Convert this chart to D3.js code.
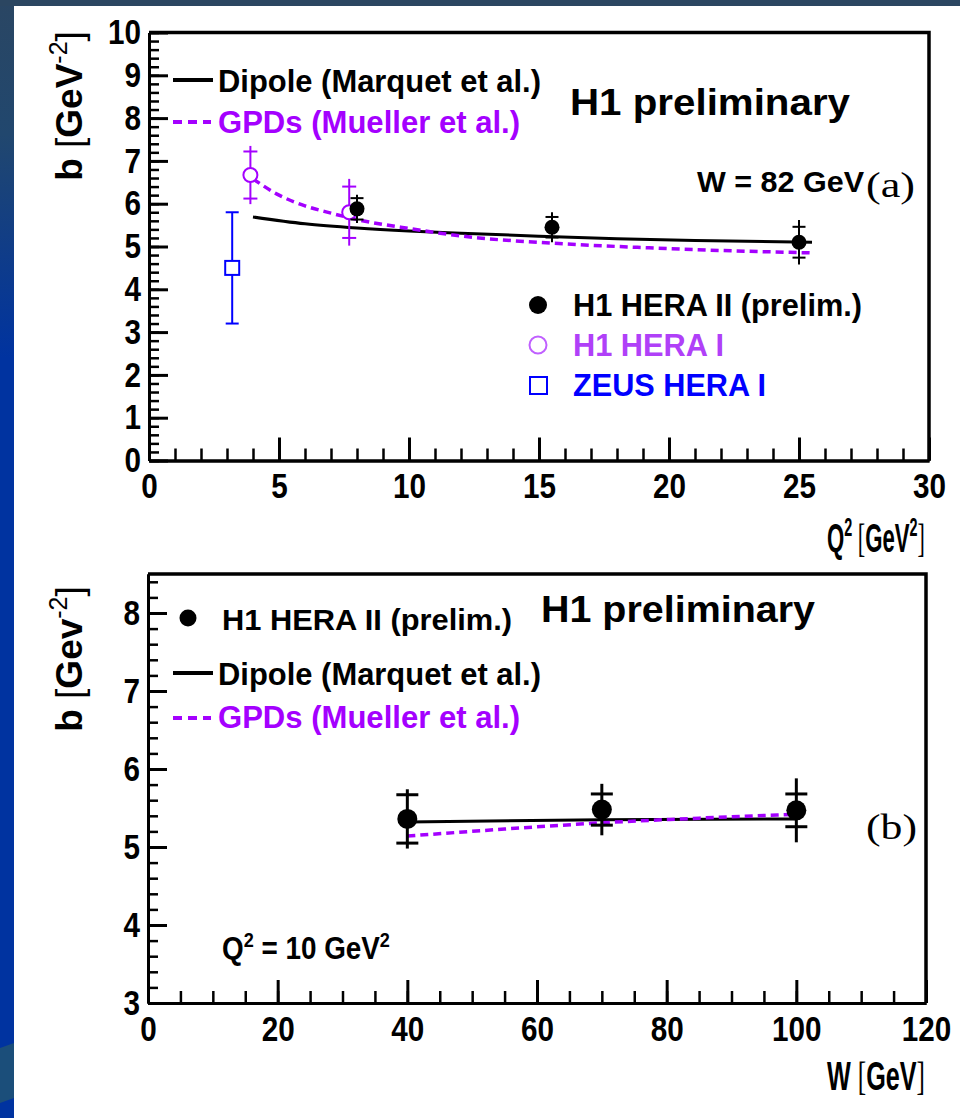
<!DOCTYPE html>
<html lang="en">
<head>
<meta charset="utf-8">
<title>b slope vs Q2 and W</title>
<script src="https://cdn.jsdelivr.net/npm/d3@7"></script>
<style>
  body { margin: 0; background: #fff; }
  .nb { font-family: "Liberation Sans", Arial, sans-serif; font-weight: bold; }
  .ax text { font-family: "Liberation Sans", Arial, sans-serif; font-weight: bold; font-size: 35px; fill: #000; }
  .ax path, .ax line { stroke: #000; stroke-width: 3; }
  .ax.minor line { stroke-width: 2.5; }
</style>
</head>
<body>
<script>
// ---- panel (a): b vs Q2 at W = 82 GeV
var h1h2Q2   = [8.0, 15.5, 25.0];
var h1h2B    = [5.88, 5.45, 5.10];
var h1h2Stat = [0.25, 0.24, 0.36];
var h1h2Tot  = [0.33, 0.35, 0.52];

var h1h1Q2   = [3.9, 7.7];
var h1h1B    = [6.67, 5.80];
var h1h1Stat = [0.55, 0.60];
var h1h1Tot  = [0.68, 0.78];

var zeusQ2  = [3.2];
var zeusB   = [4.5];
var zeusErr = [1.3];

var dipoleQ2 = [4, 6, 8, 10, 12, 15, 18, 21, 25.5];
var dipoleB  = [5.69, 5.53, 5.43, 5.36, 5.31, 5.24, 5.18, 5.14, 5.10];
var gpdQ2 = [4, 5, 6, 7, 8, 10, 12.7, 15.5, 20, 25.5];
var gpdB  = [6.58, 6.20, 5.95, 5.78, 5.63, 5.42, 5.20, 5.08, 4.95, 4.85];

var q2Major = [0, 5, 10, 15, 20, 25, 30];
var bMajorA = [0, 1, 2, 3, 4, 5, 6, 7, 8, 9, 10];

// ---- panel (b): b vs W at Q2 = 10 GeV2
var wPts  = [40, 70, 100];
var wB    = [5.36, 5.48, 5.47];
var wStat = [0.31, 0.20, 0.21];
var wTot  = [0.38, 0.33, 0.41];

var dipoleW  = [40, 70, 100];
var dipoleWB = [5.32, 5.35, 5.36];
var gpdW  = [40, 55, 70, 85, 100];
var gpdWB = [5.14, 5.23, 5.31, 5.37, 5.42];

var wMajor = [0, 20, 40, 60, 80, 100, 120];
var bMajorB = [3, 4, 5, 6, 7, 8];

var purple = "#a400ff";
var blue = "#0000ff";

var W = 960, H = 1118;
var svg = d3.select("body").append("svg").attr("width", W).attr("height", H);

// slide background
var defs = svg.append("defs");
var grad = defs.append("linearGradient").attr("id", "bg").attr("x1", 0).attr("y1", 0).attr("x2", 0).attr("y2", 1);
grad.append("stop").attr("offset", "0").attr("stop-color", "#2a4663");
grad.append("stop").attr("offset", "0.12").attr("stop-color", "#21476e");
grad.append("stop").attr("offset", "0.32").attr("stop-color", "#0033a0");
grad.append("stop").attr("offset", "1").attr("stop-color", "#0033a0");
svg.append("rect").attr("width", W).attr("height", H).attr("fill", "url(#bg)");
svg.append("rect").attr("width", W).attr("height", 6).attr("fill", "#2b4661");
svg.append("path").attr("d", "M0,1048 L14,1043 L14,1098 L0,1103 Z").attr("fill", "#1b4e7a");
svg.append("rect").attr("x", 14).attr("y", 6).attr("width", W - 14).attr("height", H - 6).attr("fill", "#fff");

function range(a, b, s) { return d3.range(a, b + s / 2, s); }

// squeeze tick digits to the narrow look of the original
function narrowTicks(g) {
  g.selectAll("text")
    .attr("textLength", function (d) { return String(d).length * 16.5; })
    .attr("lengthAdjust", "spacingAndGlyphs");
}

function drawFrame(x, y, xMaj, xMin, yMaj, yMin) {
  var x0 = x.range()[0], x1 = x.range()[1], y0 = y.range()[0], y1 = y.range()[1];
  svg.append("g").attr("class", "ax minor").attr("transform", "translate(0," + y0 + ")")
    .call(d3.axisBottom(x).tickValues(xMin).tickSize(-12).tickSizeOuter(0).tickFormat(""));
  svg.append("g").attr("class", "ax").attr("transform", "translate(0," + y0 + ")")
    .call(d3.axisBottom(x).tickValues(xMaj).tickSize(-23).tickSizeOuter(0).tickPadding(13).tickFormat(d3.format("d")))
    .call(narrowTicks);
  svg.append("g").attr("class", "ax minor").attr("transform", "translate(" + x0 + ",0)")
    .call(d3.axisLeft(y).tickValues(yMin).tickSize(-10).tickSizeOuter(0).tickFormat(""));
  svg.append("g").attr("class", "ax").attr("transform", "translate(" + x0 + ",0)")
    .call(d3.axisLeft(y).tickValues(yMaj).tickSize(-19).tickSizeOuter(0).tickPadding(8).tickFormat(d3.format("d")))
    .call(narrowTicks);
  svg.append("path").attr("d", "M" + x0 + "," + y1 + "H" + x1 + "V" + y0)
    .attr("fill", "none").attr("stroke", "#000").attr("stroke-width", 3.5);
}

function errBars(x, y, xs, bs, stat, tot, color, cap, lw) {
  var g = svg.append("g").attr("stroke", color).attr("stroke-width", lw);
  xs.forEach(function (xv, i) {
    var px = x(xv);
    g.append("line").attr("x1", px).attr("x2", px).attr("y1", y(bs[i] - tot[i])).attr("y2", y(bs[i] + tot[i]));
    [bs[i] - stat[i], bs[i] + stat[i]].forEach(function (v) {
      g.append("line").attr("x1", px - cap / 2).attr("x2", px + cap / 2).attr("y1", y(v)).attr("y2", y(v));
    });
  });
}

function curve(x, y, xs, ys, color, dash, lw) {
  svg.append("path")
    .datum(xs.map(function (v, i) { return [v, ys[i]]; }))
    .attr("d", d3.line().curve(d3.curveMonotoneX).x(function (d) { return x(d[0]); }).y(function (d) { return y(d[1]); }))
    .attr("fill", "none").attr("stroke", color).attr("stroke-width", lw)
    .attr("stroke-dasharray", dash);
}

function label(x, y, txt, size, len, color, cls) {
  return svg.append("text").attr("class", cls || "nb").attr("x", x).attr("y", y)
    .attr("font-size", size).attr("fill", color || "#000")
    .attr("textLength", len).attr("lengthAdjust", "spacingAndGlyphs").text(txt);
}

function yTitle(cx, cy, unit) {
  var t = svg.append("text").attr("transform", "translate(" + cx + "," + cy + ") rotate(-90)")
    .attr("text-anchor", "middle").attr("font-family", "Liberation Sans, Arial, sans-serif")
    .attr("font-size", 37).attr("fill", "#000");
  t.append("tspan").attr("font-weight", "bold").text("b ");
  t.append("tspan").text("[");
  t.append("tspan").attr("font-weight", "bold").text(unit);
  t.append("tspan").attr("font-size", 25).attr("dy", -15).text("-2");
  t.append("tspan").attr("dy", 15).text("]");
}

// text with superscripts, squeezed horizontally to a given width
// parts: [string, isSup, isSerif]
function squeezed(x, y, width, size, anchor, parts) {
  var g = svg.append("g");
  var t = g.append("text").attr("text-anchor", anchor)
    .attr("class", "nb").attr("font-size", size).attr("fill", "#000");
  var up = false;
  parts.forEach(function (p) {
    var s = t.append("tspan").text(p[0]);
    var dy = 0;
    if (p[1] && !up) { dy = -size * 0.4; up = true; }
    else if (!p[1] && up) { dy = size * 0.4; up = false; }
    if (dy) s.attr("dy", dy);
    if (p[1]) s.attr("font-size", size * 0.65);
    if (p[2]) s.attr("font-weight", "normal").attr("font-family", "Liberation Serif, serif");
  });
  var len = t.node().getComputedTextLength();
  g.attr("transform", "translate(" + x + "," + y + ") scale(" + (width / len) + ",1)");
}

function legendLine(x1, x2, yv, color, dash) {
  svg.append("line").attr("x1", x1).attr("x2", x2).attr("y1", yv).attr("y2", yv)
    .attr("stroke", color).attr("stroke-width", 4).attr("stroke-dasharray", dash);
}

// ================= panel (a)
var xa = d3.scaleLinear().domain([0, 30]).range([149, 929]);
var ya = d3.scaleLinear().domain([0, 10]).range([460.5, 32.5]);
drawFrame(xa, ya, q2Major, range(0, 30, 1), bMajorA, range(0, 10, 0.2));

curve(xa, ya, dipoleQ2, dipoleB, "#000", null, 3);
curve(xa, ya, gpdQ2, gpdB, purple, "8,5", 3.5);

errBars(xa, ya, zeusQ2, zeusB, zeusErr, zeusErr, blue, 13, 2);
svg.selectAll(".zeus").data(zeusQ2).enter().append("rect")
  .attr("x", function (d) { return xa(d) - 7; }).attr("y", function (d, i) { return ya(zeusB[i]) - 7; })
  .attr("width", 14).attr("height", 14).attr("fill", "#fff").attr("stroke", blue).attr("stroke-width", 2);

errBars(xa, ya, h1h1Q2, h1h1B, h1h1Stat, h1h1Tot, purple, 14, 2);
svg.selectAll(".h1a").data(h1h1Q2).enter().append("circle")
  .attr("cx", function (d) { return xa(d); }).attr("cy", function (d, i) { return ya(h1h1B[i]); })
  .attr("r", 7).attr("fill", "#fff").attr("stroke", purple).attr("stroke-width", 2);

errBars(xa, ya, h1h2Q2, h1h2B, h1h2Stat, h1h2Tot, "#000", 13, 2);
svg.selectAll(".h1b").data(h1h2Q2).enter().append("circle")
  .attr("cx", function (d) { return xa(d); }).attr("cy", function (d, i) { return ya(h1h2B[i]); })
  .attr("r", 7.5).attr("fill", "#000");

legendLine(173, 213, 80, "#000", null);
label(218, 92, "Dipole (Marquet et al.)", 31, 323);
legendLine(173, 211, 122, purple, "9,6");
label(218, 133, "GPDs (Mueller et al.)", 31, 302, purple);
label(570, 115, "H1 preliminary", 37, 280);
label(697, 192, "W = 82 GeV", 30, 167);
label(866, 197, "(a)", 36, 49, "#000", "serif").attr("font-family", "Liberation Serif, serif");

svg.append("circle").attr("cx", 538).attr("cy", 305).attr("r", 9).attr("fill", "#000");
label(573, 316, "H1 HERA II (prelim.)", 32, 289);
svg.append("circle").attr("cx", 538).attr("cy", 345).attr("r", 8.5).attr("fill", "none").attr("stroke", "#c060ff").attr("stroke-width", 2);
label(573, 356, "H1 HERA I", 32, 151, "#b040f8");
svg.append("rect").attr("x", 530).attr("y", 377).attr("width", 17).attr("height", 17).attr("fill", "none").attr("stroke", blue).attr("stroke-width", 2);
label(573, 396, "ZEUS HERA I", 32, 193, blue);

yTitle(82, 106, "GeV");
squeezed(925, 552, 98, 40, "end", [["Q"], ["2", true], [" [", false, true], ["GeV"], ["2", true], ["]", false, true]]);

// ================= panel (b)
var xb = d3.scaleLinear().domain([0, 120]).range([148, 926]);
var yb = d3.scaleLinear().domain([3, 8.5]).range([1003, 574]);
drawFrame(xb, yb, wMajor, range(0, 120, 5), bMajorB, range(3, 8.4, 0.2));

curve(xb, yb, dipoleW, dipoleWB, "#000", null, 3);
curve(xb, yb, gpdW, gpdWB, purple, "8,5", 3.5);

errBars(xb, yb, wPts, wB, wStat, wTot, "#000", 22, 3);
svg.selectAll(".wpt").data(wPts).enter().append("circle")
  .attr("cx", function (d) { return xb(d); }).attr("cy", function (d, i) { return yb(wB[i]); })
  .attr("r", 10).attr("fill", "#000");

svg.append("circle").attr("cx", 188).attr("cy", 618).attr("r", 8.5).attr("fill", "#000");
label(222, 630, "H1 HERA II (prelim.)", 30, 290);
label(541, 622, "H1 preliminary", 37, 274);
legendLine(173, 213, 673, "#000", null);
label(218, 685, "Dipole (Marquet et al.)", 31, 323);
legendLine(173, 211, 718, purple, "9,6");
label(218, 728, "GPDs (Mueller et al.)", 31, 302, purple);
label(866, 839, "(b)", 36, 51, "#000", "serif").attr("font-family", "Liberation Serif, serif");

squeezed(222, 959, 168, 31, "start", [["Q"], ["2", true], [" = 10 GeV"], ["2", true]]);

yTitle(82, 659, "Gev");
squeezed(925, 1090, 98, 40, "end", [["W "], ["[", false, true], ["GeV"], ["]", false, true]]);
</script>
</body>
</html>
